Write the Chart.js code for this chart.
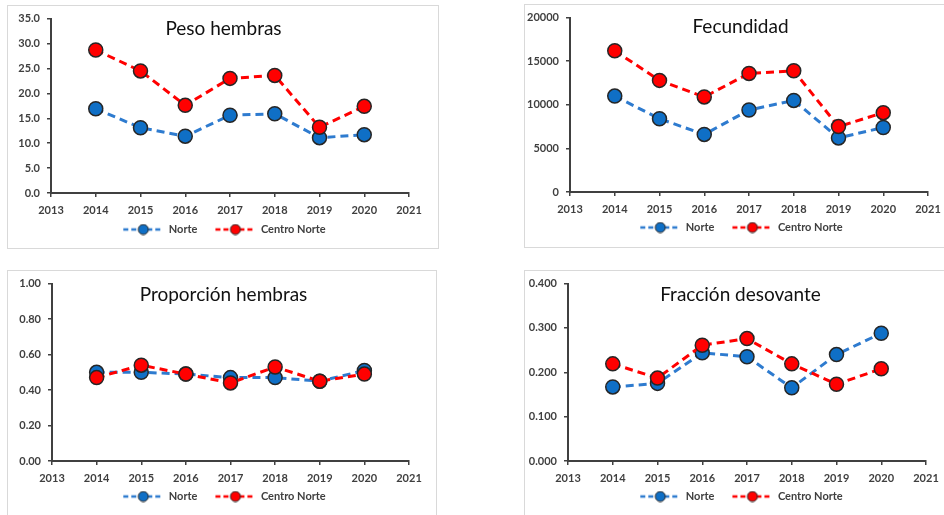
<!DOCTYPE html>
<html>
<head>
<meta charset="utf-8">
<script src="https://cdn.jsdelivr.net/npm/chart.js@4.4.1/dist/chart.umd.min.js"></script>
<style>
  html, body { margin: 0; padding: 0; background: #fff; overflow: hidden; width: 944px; height: 515px; }
  .marco { position: absolute; border: 1px solid #d9d9d9; box-sizing: border-box; }
  canvas { position: absolute; }
</style>
</head>
<body>
<div class="marco" style="left:7px;top:5px;width:432px;height:244px"></div>
<div class="marco" style="left:524px;top:4px;width:440px;height:244px"></div>
<div class="marco" style="left:7px;top:270px;width:430px;height:260px"></div>
<div class="marco" style="left:524px;top:270px;width:440px;height:260px"></div>

<canvas id="peso" width="435" height="244" style="left:7px;top:5px"></canvas>
<canvas id="fecundidad" width="435" height="244" style="left:524px;top:4px"></canvas>
<canvas id="proporcion" width="435" height="250" style="left:7px;top:270px"></canvas>
<canvas id="fraccion" width="435" height="250" style="left:524px;top:270px"></canvas>

<script>
// ---- datos ----
const years = [2014, 2015, 2016, 2017, 2018, 2019, 2020];
const seriesNames = ['Norte', 'Centro Norte'];

const pesoNorte  = [16.9, 13.1, 11.4, 15.6, 15.9, 11.1, 11.7];
const pesoCentro = [28.7, 24.5, 17.6, 23.0, 23.6, 13.2, 17.4];

const fecNorte  = [11000, 8400, 6600, 9400, 10500, 6200, 7400];
const fecCentro = [16200, 12800, 10900, 13600, 13900, 7500, 9100];

const propNorte  = [0.50, 0.50, 0.49, 0.47, 0.47, 0.45, 0.51];
const propCentro = [0.47, 0.54, 0.49, 0.44, 0.53, 0.45, 0.49];

const fracNorte  = [0.167, 0.175, 0.244, 0.235, 0.165, 0.240, 0.288];
const fracCentro = [0.219, 0.187, 0.261, 0.276, 0.219, 0.173, 0.208];

// ---- estilo ----
const FONT = 'Lato';
const TEXT = '#3f3f3f';
const AXIS = '#404040';
const lineColors   = ['#2E7BCF', '#FF0000'];
const markerColors = ['#0F6FC6', '#FF0000'];

// icono de leyenda: línea discontinua con marcador (12px libres a la izquierda = separación)
const ICON_GAP = 12;
function legendIcon(i) {
    const c = document.createElement('canvas');
    c.width = 40 + ICON_GAP;
    c.height = 12;
    const g = c.getContext('2d');
    g.strokeStyle = lineColors[i];
    g.lineWidth = 2.5;
    g.setLineDash([5, 3]);
    g.beginPath();
    g.moveTo(ICON_GAP, 6);
    g.lineTo(ICON_GAP + 40, 6);
    g.stroke();
    g.setLineDash([]);
    g.beginPath();
    g.arc(ICON_GAP + 20, 6, 5, 0, Math.PI * 2);
    g.fillStyle = markerColors[i];
    g.fill();
    g.lineWidth = 1;
    g.strokeStyle = '#262626';
    g.stroke();
    return c;
}

// título dibujado dentro del área del gráfico
const titlePlugin = {
    id: 'panelTitle',
    afterDraw(chart, args, opts) {
        const ctx = chart.ctx;
        ctx.save();
        ctx.font = '19px ' + FONT;
        ctx.fillStyle = '#111';
        ctx.textAlign = 'center';
        ctx.textBaseline = 'middle';
        ctx.fillText(opts.text, chart.width / 2 - 1, opts.y);
        ctx.restore();
    }
};

function makeChart(id, title, titleY, norte, centro, yMax, yStep, decimals, box) {
    const toPoints = arr => arr.map((v, i) => ({ x: years[i], y: v }));
    const series = [norte, centro];

    return new Chart(document.getElementById(id), {
        type: 'line',
        data: {
            datasets: series.map((arr, i) => ({
                label: seriesNames[i],
                data: toPoints(arr),
                borderColor: lineColors[i],
                borderWidth: 3,
                borderDash: [8, 5],
                backgroundColor: markerColors[i],
                pointBackgroundColor: markerColors[i],
                pointBorderColor: '#262626',
                pointBorderWidth: 1.5,
                pointRadius: 7,
                pointHoverRadius: 7,
                fill: false,
                tension: 0,
                order: 2 - i
            }))
        },
        options: {
            responsive: false,
            animation: false,
            events: [],
            // izquierda negativa: centra la leyenda como en el original
            layout: { padding: { top: box.top, right: 0, bottom: box.bottom, left: -ICON_GAP } },
            scales: {
                x: {
                    type: 'linear',
                    min: 2013,
                    max: 2021,
                    afterFit: s => { s.height = box.xh; s.paddingRight = box.right; },
                    ticks: {
                        stepSize: 1,
                        maxRotation: 0,
                        padding: 7,
                        color: TEXT,
                        font: { family: FONT, size: 11, weight: 'bold' },
                        callback: v => String(v)
                    },
                    grid: { drawOnChartArea: false, tickLength: 4, color: AXIS, lineWidth: 1.5 },
                    border: { color: AXIS, width: 2 }
                },
                y: {
                    min: 0,
                    max: yMax,
                    afterFit: s => { s.width = box.left + ICON_GAP; },
                    ticks: {
                        stepSize: yStep,
                        padding: 7,
                        color: TEXT,
                        font: { family: FONT, size: 11, weight: 'bold' },
                        callback: v => Number(v).toFixed(decimals)
                    },
                    grid: { drawOnChartArea: false, tickLength: 4, color: AXIS, lineWidth: 1.5 },
                    border: { color: AXIS, width: 2 }
                }
            },
            plugins: {
                tooltip: { enabled: false },
                panelTitle: { text: title, y: titleY },
                legend: {
                    position: 'bottom',
                    labels: {
                        usePointStyle: true,
                        pointStyleWidth: 40 + ICON_GAP,
                        padding: 6,
                        color: TEXT,
                        font: { family: FONT, size: 11, weight: 'bold' },
                        generateLabels: chart => chart.data.datasets.map((ds, i) => ({
                            text: ds.label,
                            pointStyle: legendIcon(i),
                            fillStyle: markerColors[i],
                            strokeStyle: lineColors[i],
                            lineWidth: 0,
                            hidden: false,
                            datasetIndex: i,
                            fontColor: TEXT
                        }))
                    }
                }
            }
        },
        plugins: [titlePlugin]
    });
}

makeChart('peso', 'Peso hembras', 24, pesoNorte, pesoCentro, 35, 5, 1,
    { left: 44, right: 33, top: 9, bottom: 4, xh: 25 });
makeChart('fecundidad', 'Fecundidad', 23, fecNorte, fecCentro, 20000, 5000, 0,
    { left: 46, right: 31, top: 7, bottom: 5, xh: 24 });
makeChart('proporcion', 'Proporción hembras', 25, propNorte, propCentro, 1, 0.2, 2,
    { left: 45, right: 33, top: 9, bottom: 8, xh: 24 });
makeChart('fraccion', 'Fracción desovante', 25, fracNorte, fracCentro, 0.4, 0.1, 3,
    { left: 44, right: 33, top: 9, bottom: 8, xh: 24 });
</script>
</body>
</html>
